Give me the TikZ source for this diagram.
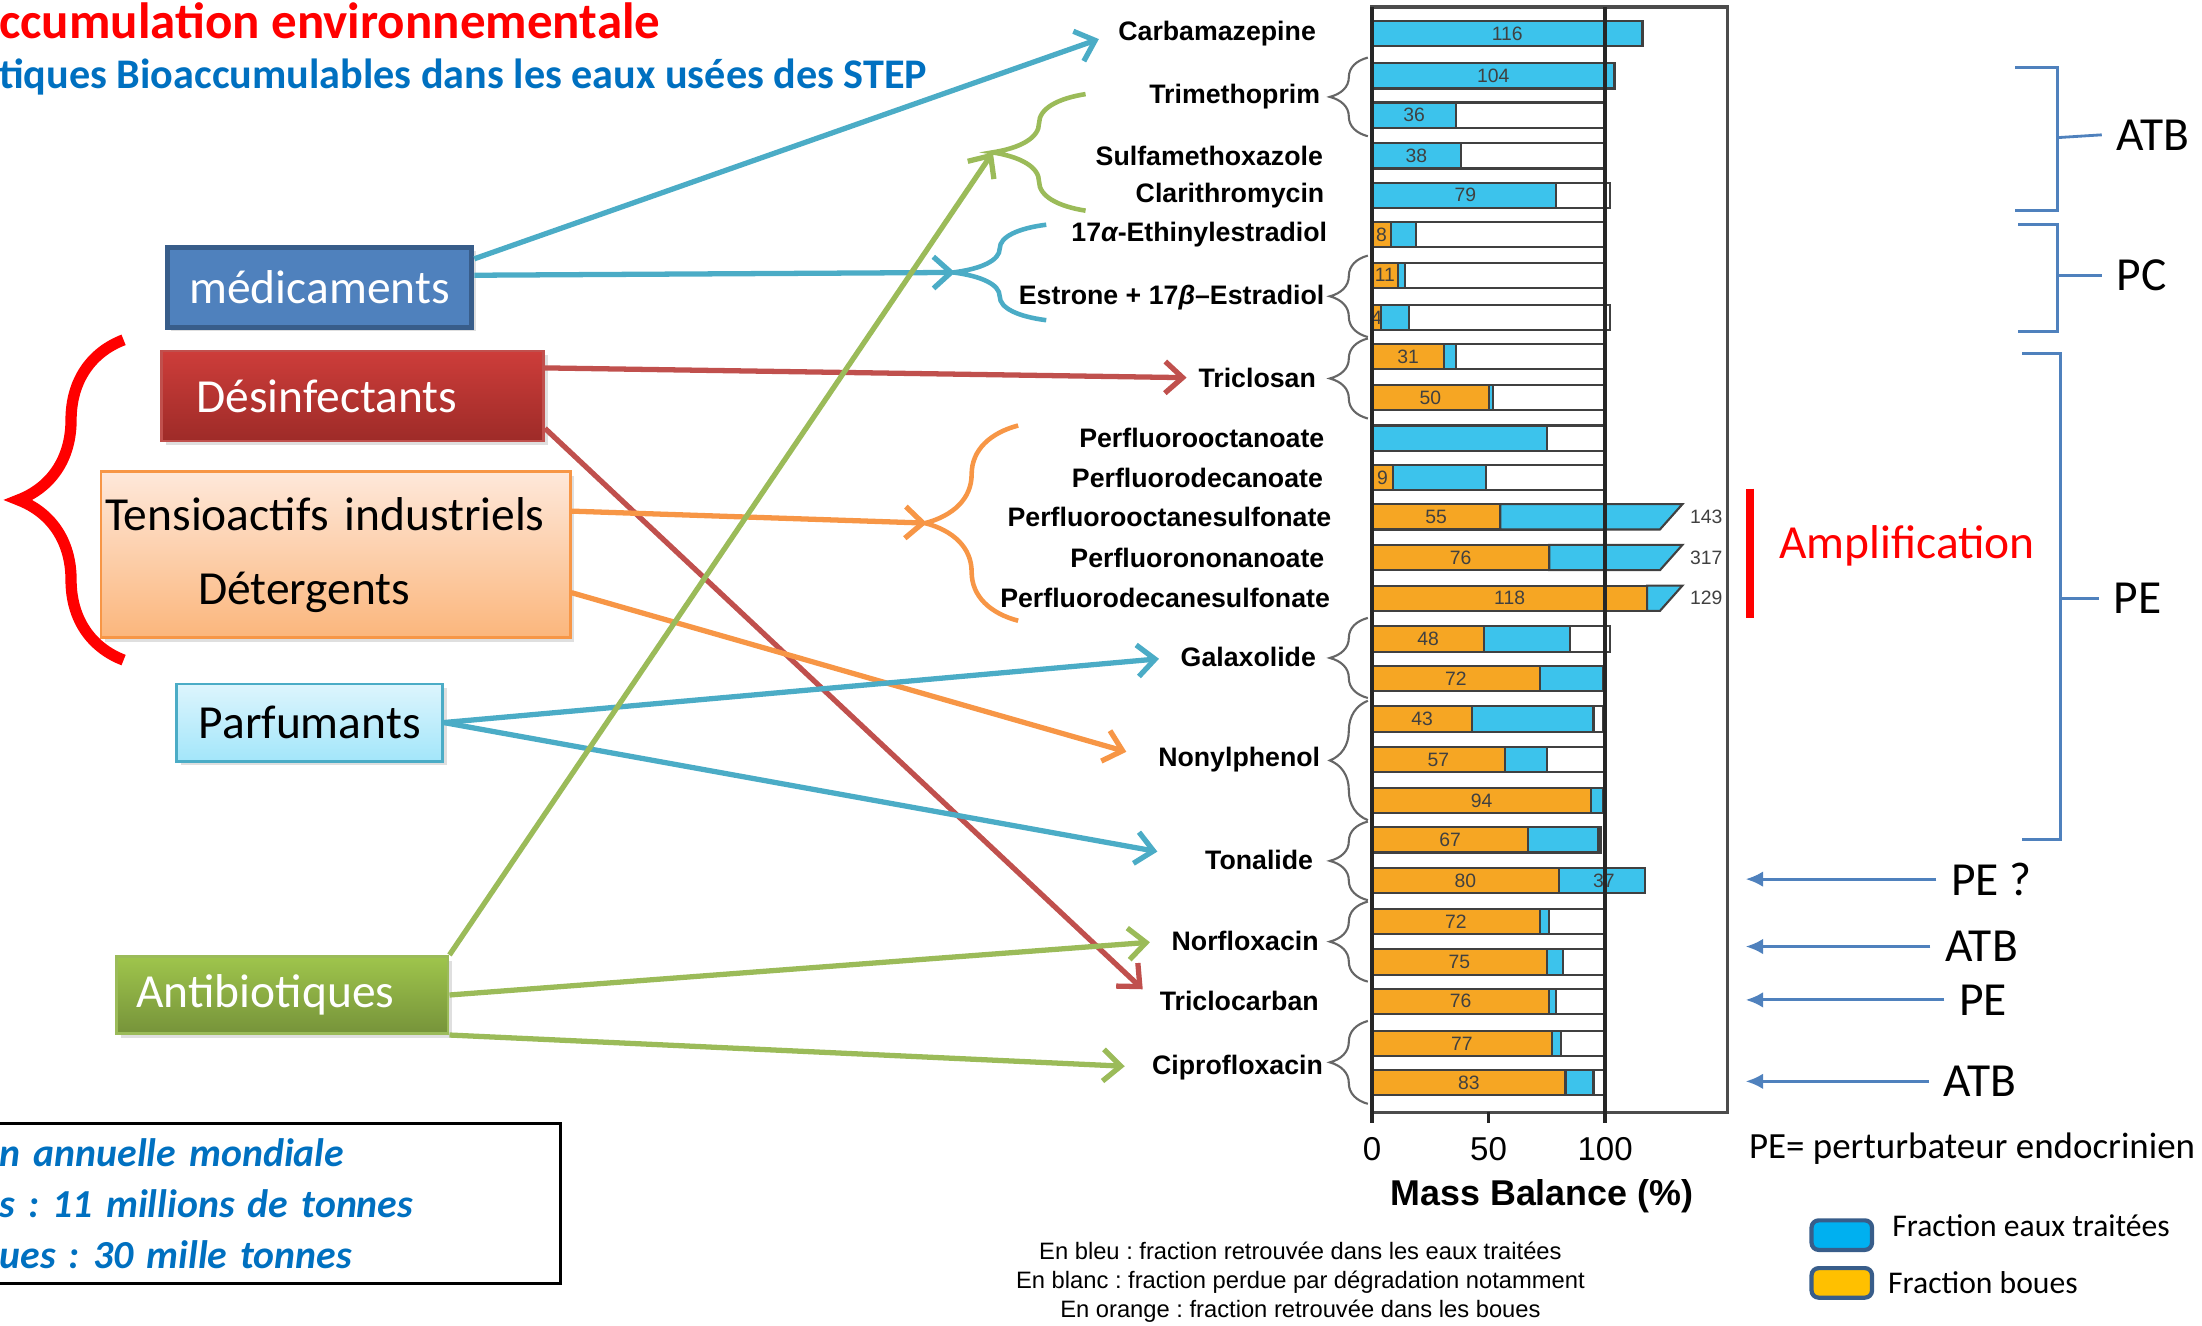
\documentclass[tikz,border=0pt]{standalone}
\usepackage{fontspec}
\setmainfont{Carlito}
\newfontfamily\arialfont{Liberation Sans}
\usetikzlibrary{arrows.meta,decorations.pathreplacing,shadows}
\frenchspacing

\definecolor{medfill}{HTML}{4F81BD}
\definecolor{meddraw}{HTML}{385D8A}
\definecolor{desTop}{HTML}{CD3D3A}
\definecolor{desBot}{HTML}{9E2B28}
\definecolor{desdraw}{HTML}{C0504D}
\definecolor{tensTop}{HTML}{FEE8DA}
\definecolor{tensBot}{HTML}{FBB67C}
\definecolor{tensdraw}{HTML}{F79646}
\definecolor{parfTop}{HTML}{DDF5FD}
\definecolor{parfBot}{HTML}{A3E6FA}
\definecolor{parfdraw}{HTML}{4BACC6}
\definecolor{antiTop}{HTML}{9FC54C}
\definecolor{antiBot}{HTML}{76933A}
\definecolor{antidraw}{HTML}{9BBB59}
\definecolor{flcyan}{HTML}{4BACC6}
\definecolor{flred}{HTML}{C0504D}
\definecolor{florange}{HTML}{F79646}
\definecolor{flgreen}{HTML}{9BBB59}
\definecolor{boue}{HTML}{F6A623}
\definecolor{eau}{HTML}{3CC3EC}
\definecolor{titred}{HTML}{FF0000}
\definecolor{subblue}{HTML}{0070C0}
\definecolor{sideblue}{HTML}{4F81BD}
\definecolor{legeau}{HTML}{00B0F0}
\definecolor{legboue}{HTML}{FFC000}

\begin{document}
\begin{tikzpicture}[x=0.014043cm,y=-0.014043cm,
    box/.style={draw,line width=0.8pt,inner sep=0pt,font=\fontsize{13.5}{16}\selectfont,
      drop shadow={opacity=0.25,shadow xshift=1.2pt,shadow yshift=-1.2pt}},
    lab/.style={anchor=east,inner sep=1pt,font=\arialfont\bfseries\fontsize{7.6}{9}\selectfont},
    barline/.style={draw=black!75,line width=0.6pt},
    barnum/.style={inner sep=0pt,text=black!75,font=\arialfont\fontsize{5.5}{6}\selectfont},
    fl/.style={line width=1.5pt,-{Straight Barb[length=5pt,width=9pt]}},
    gbrace/.style={decorate,decoration={brace,amplitude=0.38cm},draw=black!60,line width=0.6pt},
    cbrace/.style={decorate,decoration={brace,amplitude=0.93cm},line width=1.3pt},
    bracket/.style={draw=sideblue,line width=0.8pt},
    side/.style={draw=sideblue,line width=0.9pt,-{Latex[length=5pt,width=4.5pt]}},
    tag/.style={inner sep=4pt,font=\fontsize{13.5}{16}\selectfont}]
  \useasboundingbox (0,0) rectangle (1568,944);

  % titres
  \node[anchor=west,inner sep=0pt,text=titred,font=\bfseries\fontsize{14.5}{17}\selectfont] (titre) at (-1,15) {ccumulation environnementale};
  \node[anchor=west,inner sep=0pt,text=subblue,font=\bfseries\fontsize{12}{14}\selectfont] (soustitre) at (-1,55) {tiques Bioaccumulables dans les eaux usées des STEP};

  % familles
  \node[box,draw=meddraw,fill=medfill,text=white,line width=1.4pt,minimum width=3.047cm,minimum height=0.8cm] (med) at (227.5,204.5) {médicaments};
  \node[box,draw=desdraw,top color=desTop,bottom color=desBot,text=white,minimum height=0.899cm,text width=3.12cm,inner xsep=0.35cm,align=left] (des) at (251,282) {Désinfectants};
  \node[box,draw=tensdraw,top color=tensTop,bottom color=tensBot,minimum height=1.657cm,text width=4.61cm,inner xsep=0.04cm,align=left] (tens) at (239,395) {Tensioactifs industriels\\[5pt]\hspace*{0.93cm}Détergents};
  \node[box,draw=parfdraw,top color=parfTop,bottom color=parfBot,minimum width=2.654cm,minimum height=0.772cm] (parf) at (220.5,514.5) {Parfumants};
  \node[box,draw=antidraw,top color=antiTop,bottom color=antiBot,text=white,minimum height=0.772cm,text width=2.914cm,inner xsep=0.2cm,align=left] (anti) at (201,708.5) {Antibiotiques};
  \draw[decorate,decoration={brace,amplitude=1.05cm},draw=titred,line width=3.2pt] (88,470) -- (88,242);

  % production
  \node[draw,line width=0.8pt,anchor=north west,minimum height=1.601cm,text width=5.458cm,inner xsep=0.15cm,inner ysep=0pt,align=left,text=subblue,font=\bfseries\itshape\fontsize{11.3}{14.6}\selectfont] (info) at (-12,799) {n annuelle mondiale\\s : 11 millions de tonnes\\ues : 30 mille tonnes};

  % diagramme
  \draw[black!70,line width=1pt] (977,5) rectangle (1230,792);
  \foreach \y/\o/\b/\w/\c/\v in {24/0/116/100/58/116, 54/0/104/100/52/104, 82/0/36/100/18/36,
      111/0/38/100/19/38, 139/0/79/102/40/79, 167/8/19/100/4/8, 196/11/14/100/5.5/11,
      226/4/16/102/2/4, 254/31/36/100/15.5/31, 283/50/52/100/25/50, 312/0/75/100/0/{},
      340/9/49/100/4.5/9, 455/48/85/102/24/48, 483/72/99/100/36/72, 512/43/95/99/21.5/43,
      541/57/75/100/28.5/57, 570/94/99/100/47/94, 598/67/97/98/33.5/67, 627/80/117/100/40/80,
      656/72/76/100/36/72, 685/75/82/100/37.5/75, 713/76/79/100/38/76, 743/77/81/100/38.5/77,
      771/83/95/100/41.5/83} {
    \draw[barline,fill=white] (977,\y-9) rectangle ({977+1.66*\w},\y+9);
    \draw[barline,fill=boue] (977,\y-9) rectangle ({977+1.66*\o},\y+9);
    \draw[barline,fill=eau] ({977+1.66*\o},\y-9) rectangle ({977+1.66*\b},\y+9);
    \node[barnum] (n\y) at ({977+1.66*\c},\y) {\v};
  }
  \foreach \y/\o/\r in {368/55/143, 397/76/317, 426/118/129} {
    \draw[barline,fill=white] (977,\y-9) rectangle (1143,\y+9);
    \draw[barline,fill=boue] (977,\y-9) rectangle ({977+1.66*\o},\y+9);
    \draw[barline,fill=eau] ({977+1.66*\o},\y-9) -- (1198,\y-9) -- (1182,\y+9) -- ({977+1.66*\o},\y+9) -- cycle;
    \node[barnum] (n\y) at ({977+0.83*\o},\y) {\o};
    \node[barnum,anchor=west] (r\y) at (1203,\y) {\r};
  }
  \node[barnum] (n627b) at (1142,627) {37};
  \draw[black!85,line width=1pt] (1143,5) -- (1143,800);
  \draw[black!85,line width=1pt] (977,5) -- (977,800);
  \foreach \t in {0,50,100} {
    \draw[black!85,line width=1pt] ({977+1.66*\t},792) -- ({977+1.66*\t},800);
    \node[font=\arialfont\fontsize{9.4}{11}\selectfont] (tick\t) at ({977+1.66*\t},818) {\t};
  }
  \node[font=\arialfont\bfseries\fontsize{10.2}{12}\selectfont] (axe) at (1098,852) {Mass Balance (\%)};

  % composes
  \node[lab] (carba) at (940,24) {Carbamazepine};
  \node[lab] (trime) at (943,69) {Trimethoprim};
  \node[lab] (sulfa) at (945,111) {Sulfamethoxazole};
  \node[lab] (clari) at (946,139) {Clarithromycin};
  \node[lab] (ethin) at (948,167) {17{\itshape α}-Ethinylestradiol};
  \node[lab] (estro) at (946,212) {Estrone + 17{\itshape β}–Estradiol};
  \node[lab] (triclo) at (940,269) {Triclosan};
  \node[lab] (pfoa) at (946,312) {Perfluorooctanoate};
  \node[lab] (pfda) at (945,340) {Perfluorodecanoate};
  \node[lab] (pfos) at (951,368) {Perfluorooctanesulfonate};
  \node[lab] (pfna) at (946,397) {Perfluorononanoate};
  \node[lab] (pfds) at (950,426) {Perfluorodecanesulfonate};
  \node[lab] (galax) at (940,468) {Galaxolide};
  \node[lab] (nonyl) at (943,541) {Nonylphenol};
  \node[lab] (tonal) at (938,612) {Tonalide};
  \node[lab] (norflo) at (942,670) {Norfloxacin};
  \node[lab] (tricc) at (942,713) {Triclocarban};
  \node[lab] (cipro) at (945,760) {Ciprofloxacin};
  \foreach \a/\b in {97/41, 240/182, 298/241, 497/440, 584/499, 641/585, 699/642, 786/727}
    \draw[gbrace] (974,\a) -- (974,\b);

  % accolades de couleur
  \draw[cbrace,draw=flgreen] (773,150) -- (773,67);
  \draw[cbrace,draw=flcyan] (745,228) -- (745,160);
  \draw[cbrace,draw=florange] (725,442) -- (725,303);
  \coordinate (gtip) at (707,108.5);
  \coordinate (ctip) at (680,194);
  \coordinate (otip) at (660,372.5);

  % fleches
  \draw[fl,flcyan,shorten >=4.6pt] ([yshift=-4pt]med.north east) -- (carba.west);
  \draw[fl,flcyan] ([yshift=3.4pt]med.east) -- (ctip);
  \draw[fl,flred,shorten >=2.2pt] ([yshift=8pt]des.east) -- (triclo.west);
  \draw[fl,flred,shorten >=5pt] ([yshift=-9.2pt]des.east) -- (tricc.west);
  \draw[fl,florange] ([yshift=12.4pt]tens.east) -- (otip);
  \draw[fl,florange,shorten >=8.2pt] ([yshift=-10.8pt]tens.east) -- (nonyl.west);
  \draw[fl,flcyan,shorten >=5pt] (parf.east) -- (galax.west);
  \draw[fl,flcyan,shorten >=12.6pt] (parf.east) -- (tonal.west);
  \draw[fl,flgreen] (anti.north east) -- (gtip);
  \draw[fl,flgreen,shorten >=5pt] (anti.east) -- (norflo.west);
  \draw[fl,flgreen,shorten >=6.6pt] (anti.south east) -- (cipro.west);

  % classes
  \draw[bracket] (1435,48) -- (1465,48) -- (1465,150) -- (1435,150);
  \node[tag] (atb1) at (1533,96) {ATB};
  \draw[bracket] (1465,98) -- (atb1.west);
  \draw[bracket] (1437,160) -- (1465,160) -- (1465,236) -- (1437,236);
  \node[tag] (pc) at (1525,196) {PC};
  \draw[bracket] (1465,196) -- (pc.west);
  \draw[bracket] (1440,252) -- (1467,252) -- (1467,598) -- (1440,598);
  \node[tag] (pe1) at (1522,426) {PE};
  \draw[bracket] (1467,426) -- (pe1.west);
  \draw[titred,line width=2.2pt] (1246,348) -- (1246,440);
  \node[tag,text=titred] (ampli) at (1358,389) {Amplification};

  \coordinate (chartR) at (1243,0);
  \node[tag] (peq) at (1418,626) {PE ?};
  \node[tag] (atb2) at (1411,674) {ATB};
  \node[tag] (pe2) at (1412,712) {PE};
  \node[tag] (atb3) at (1410,770) {ATB};
  \draw[side] (peq.west) -- (peq.west -| chartR);
  \draw[side] (atb2.west) -- (atb2.west -| chartR);
  \draw[side] (pe2.west) -- (pe2.west -| chartR);
  \draw[side] (atb3.west) -- (atb3.west -| chartR);
  \node[anchor=west,inner sep=0pt,font=\fontsize{10.5}{12}\selectfont] (pedef) at (1245,818) {PE= perturbateur endocrinien};

  % legende
  \node[draw=meddraw,fill=legeau,line width=1.2pt,rounded corners=2pt,minimum width=0.604cm,minimum height=0.295cm,inner sep=0pt] (leau) at (1311.5,879.5) {};
  \node[draw=meddraw,fill=legboue,line width=1.2pt,rounded corners=2pt,minimum width=0.604cm,minimum height=0.295cm,inner sep=0pt] (lboue) at (1311.5,913.5) {};
  \node[anchor=west,inner sep=0pt,font=\fontsize{9}{11}\selectfont] (teau) at (1347,873) {Fraction eaux traitées};
  \node[anchor=west,inner sep=0pt,font=\fontsize{9}{11}\selectfont] (tboue) at (1344,913) {Fraction boues};

  % notes
  \node[inner sep=0pt,font=\arialfont\fontsize{6.75}{8}\selectfont] (note1) at (926,891) {En bleu : fraction retrouvée dans les eaux traitées};
  \node[inner sep=0pt,font=\arialfont\fontsize{6.75}{8}\selectfont] (note2) at (926,913) {En blanc : fraction perdue par dégradation notamment};
  \node[inner sep=0pt,font=\arialfont\fontsize{6.75}{8}\selectfont] (note3) at (926,934) {En orange : fraction retrouvée dans les boues};
\end{tikzpicture}
\end{document}
